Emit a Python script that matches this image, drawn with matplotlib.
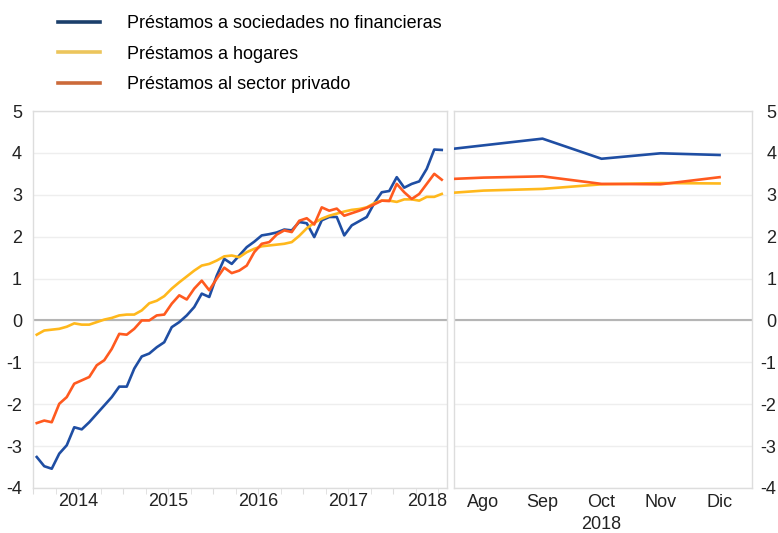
import numpy as np
import matplotlib
matplotlib.use("Agg")
import matplotlib.pyplot as plt
from matplotlib.lines import Line2D
from matplotlib.ticker import FixedLocator

plt.rcParams['font.family'] = ['Liberation Sans', 'DejaVu Sans']
plt.rcParams['axes.unicode_minus'] = False

# Monthly series, Jan 2014 - Jul 2018 (annual growth, %)
years = ['2014', '2015', '2016', '2017', '2018']
sociedades = [-3.26, -3.48, -3.54, -3.18, -2.98, -2.55, -2.60, -2.43, -2.23, -2.03, -1.83, -1.58,
              -1.58, -1.15, -0.86, -0.79, -0.64, -0.52, -0.16, -0.04, 0.12, 0.32, 0.64, 0.56,
              1.07, 1.47, 1.35, 1.55, 1.75, 1.88, 2.03, 2.06, 2.10, 2.17, 2.15, 2.35,
              2.32, 1.99, 2.39, 2.47, 2.47, 2.03, 2.27, 2.37, 2.47, 2.80, 3.06, 3.09,
              3.42, 3.17, 3.26, 3.32, 3.62, 4.08, 4.07]
hogares = [-0.34, -0.24, -0.22, -0.20, -0.15, -0.07, -0.10, -0.10, -0.04, 0.02, 0.06, 0.12,
           0.14, 0.14, 0.24, 0.41, 0.47, 0.58, 0.76, 0.91, 1.05, 1.19, 1.31, 1.35,
           1.43, 1.53, 1.55, 1.51, 1.63, 1.71, 1.77, 1.79, 1.81, 1.83, 1.87, 2.02,
           2.20, 2.33, 2.43, 2.50, 2.55, 2.60, 2.64, 2.66, 2.70, 2.80, 2.86, 2.86,
           2.83, 2.89, 2.89, 2.86, 2.95, 2.95, 3.02]
privado = [-2.45, -2.39, -2.43, -1.99, -1.83, -1.51, -1.43, -1.35, -1.07, -0.95, -0.68, -0.32,
           -0.34, -0.20, 0.00, 0.00, 0.12, 0.14, 0.40, 0.60, 0.50, 0.76, 0.95, 0.72,
           1.00, 1.26, 1.13, 1.19, 1.31, 1.63, 1.83, 1.87, 2.05, 2.15, 2.11, 2.38,
           2.44, 2.29, 2.70, 2.62, 2.67, 2.50, 2.56, 2.62, 2.69, 2.77, 2.86, 2.85,
           3.26, 3.06, 2.90, 3.02, 3.26, 3.50, 3.36]

# Recent months (Jul carried over from the left panel, then Ago-Dic 2018)
meses = ['Ago', 'Sep', 'Oct', 'Nov', 'Dic']
soc_rec = [4.10, 4.18, 4.34, 3.86, 3.99, 3.95]
hog_rec = [3.05, 3.10, 3.14, 3.25, 3.28, 3.27]
priv_rec = [3.38, 3.41, 3.44, 3.26, 3.25, 3.42]

labels = ['Préstamos a sociedades no financieras', 'Préstamos a hogares',
          'Préstamos al sector privado']
colors = ['#1f4ea3', '#ffb81c', '#ff5a1f']
legend_colors = ['#1b3f6b', '#ecc55c', '#cc6a3a']

fig = plt.figure(figsize=(7.78, 5.33), dpi=100)
ax1 = fig.add_axes([33 / 778, 1 - 488 / 533, 414 / 778, 377 / 533])
ax2 = fig.add_axes([454 / 778, 1 - 488 / 533, 298 / 778, 377 / 533])

x = np.arange(len(sociedades))
for ys, c in zip([sociedades, hogares, privado], colors):
    ax1.plot(x, ys, color=c, lw=1.9, zorder=3)

xr = np.r_[-0.5, np.arange(len(meses))]
for ys, c in zip([soc_rec, hog_rec, priv_rec], colors):
    ax2.plot(xr, ys, color=c, lw=1.9, zorder=3)

for ax in (ax1, ax2):
    ax.set_ylim(-4, 5)
    ax.set_yticks(range(-4, 6))
    ax.grid(axis='y', color='#eeeeee', lw=1)
    ax.axhline(0, color='#b5b5b5', lw=1.5, zorder=2)
    for s in ax.spines.values():
        s.set_color('#dddddd')
        s.set_linewidth(1)
    ax.tick_params(axis='y', length=0, labelsize=13, colors='#222222')

# left panel: yearly axis
ax1.set_xlim(-0.5, 54.7)
ax1.set_xticks(np.arange(len(years)) * 12 - 0.5)
ax1.set_xticklabels([])
ax1.xaxis.set_minor_locator(FixedLocator(np.arange(0, 55, 3) - 0.5))
ax1.tick_params(axis='x', which='both', length=4, color='#dddddd')
ax1.tick_params(axis='y', pad=8)
for i, yr in enumerate(years):
    if i < len(years) - 1:
        ax1.text(i * 12 + 5.5, -4.13, yr, ha='center', va='top', fontsize=13,
                 color='#222222')
    else:
        ax1.text(54.7, -4.13, yr, ha='right', va='top', fontsize=13, color='#222222')

# right panel: monthly axis
ax2.set_xlim(-0.5, 4.55)
ax2.set_xticks(range(len(meses)))
ax2.set_xticklabels(meses, fontsize=13, color='#222222')
ax2.tick_params(axis='x', length=0, pad=4)
ax2.yaxis.tick_right()
ax2.tick_params(axis='y', pad=17.5)
for t in ax2.get_yticklabels():
    t.set_horizontalalignment('right')
ax2.text(2, -4.66, '2018', ha='center', va='top', fontsize=13, color='#222222')

handles = [Line2D([], [], color=c, lw=2.6) for c in legend_colors]
fig.legend(handles, labels, loc='upper left', bbox_to_anchor=(42 / 778, 1 + 1 / 533),
           frameon=False, fontsize=13, handlelength=2.3, handletextpad=1.5,
           labelspacing=0.75)

fig.savefig('out.png', dpi=100)
